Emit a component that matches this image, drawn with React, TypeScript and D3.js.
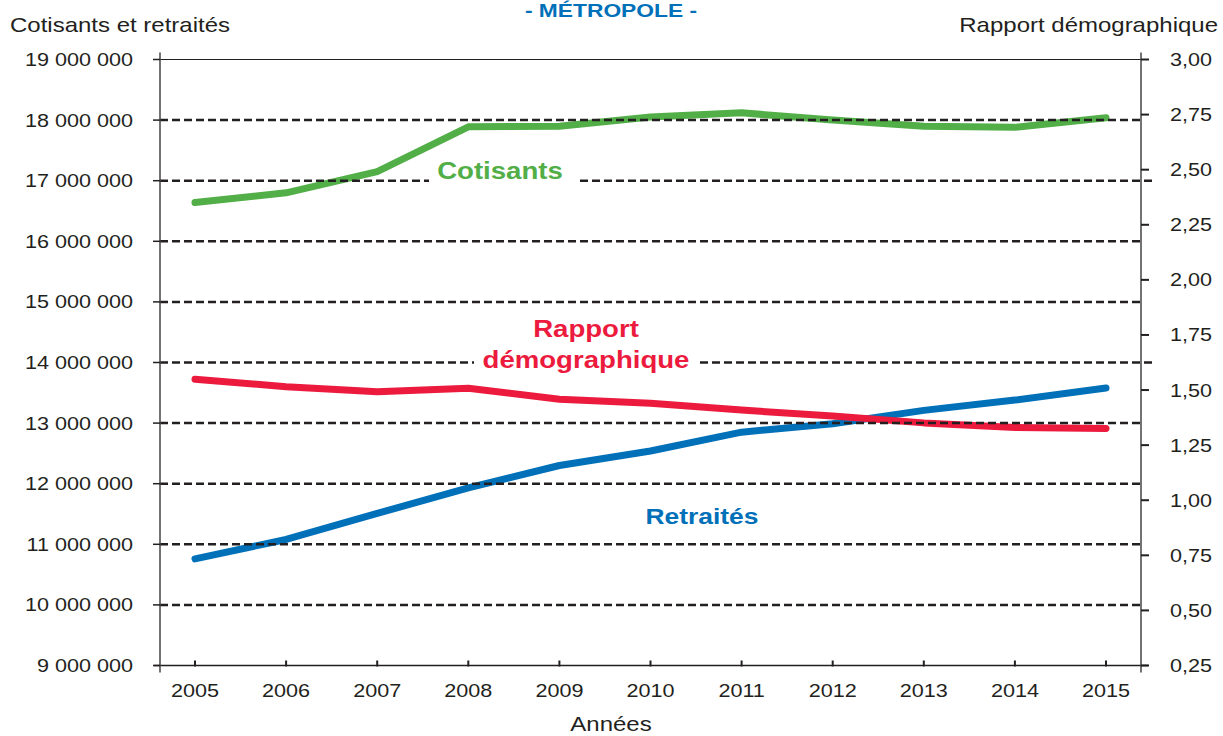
import React from "react";
import * as d3 from "d3";

const years = [2005, 2006, 2007, 2008, 2009, 2010, 2011, 2012, 2013, 2014, 2015];
const cotisants = [16.64, 16.80, 17.15, 17.89, 17.90, 18.05, 18.12, 18.00, 17.90, 17.88, 18.04]; // millions
const retraites = [10.76, 11.08, 11.51, 11.93, 12.30, 12.54, 12.85, 12.99, 13.21, 13.38, 13.58]; // millions
const rapport = [1.549, 1.515, 1.492, 1.508, 1.458, 1.44, 1.409, 1.382, 1.351, 1.33, 1.326];
const leftTicks = [9, 10, 11, 12, 13, 14, 15, 16, 17, 18, 19];
const rightTicks = [0.25, 0.5, 0.75, 1.0, 1.25, 1.5, 1.75, 2.0, 2.25, 2.5, 2.75, 3.0];

const W = 1223;
const H = 736;
const X0 = 160;
const X1 = 1141;
const Y0 = 665.5;
const Y1 = 59.5;
const SX = 1.2;
const FONT = "'Liberation Sans', Arial, Helvetica, sans-serif";

const GREEN = "#52ae47";
const RED = "#ec1b3e";
const BLUE = "#0070b9";
const DARK = "#231f20";

function T(props: {
  x: number; y: number; anchor?: string; size: number; weight?: string | number; fill?: string; children: React.ReactNode;
}) {
  const { x, y, anchor = "start", size, weight = "normal", fill = DARK, children } = props;
  return (
    <text
      transform={`translate(${x},${y}) scale(${SX},1)`}
      textAnchor={anchor}
      fontSize={size}
      fontWeight={weight}
      fill={fill}
      fontFamily={FONT}
    >
      {children}
    </text>
  );
}

const fmtLeft = (v: number) => `${v} 000 000`;
const fmtRight = (v: number) => v.toFixed(2).replace(".", ",");

export default function App() {
  const x = d3.scaleLinear().domain([2005, 2015]).range([195, 1106]);
  const yL = d3.scaleLinear().domain([9, 19]).range([Y0, Y1]);
  const yR = d3.scaleLinear().domain([0.25, 3.0]).range([Y0, Y1]);

  const lineL = d3.line<number>().x((_, i) => x(years[i])).y((d) => yL(d));
  const lineR = d3.line<number>().x((_, i) => x(years[i])).y((d) => yR(d));

  const gridVals = leftTicks.filter((v) => v > 9 && v < 19);

  return (
    <svg
      width={W}
      height={H}
      style={{ position: "absolute", left: 0, top: 0, background: "#fff" }}
    >
      <rect x={0} y={0} width={W} height={H} fill="#fff" />

      {/* data lines */}
      <path d={lineL(cotisants) || ""} fill="none" stroke={GREEN} strokeWidth={7} strokeLinecap="round" strokeLinejoin="round" />
      <path d={lineL(retraites) || ""} fill="none" stroke={BLUE} strokeWidth={7} strokeLinecap="round" strokeLinejoin="round" />
      <path d={lineR(rapport) || ""} fill="none" stroke={RED} strokeWidth={7} strokeLinecap="round" strokeLinejoin="round" />

      {/* dashed gridlines */}
      {gridVals.map((v) => (
        <line
          key={v}
          x1={X0}
          x2={v === 17 || v === 14 ? 1155 : X1}
          y1={yL(v)}
          y2={yL(v)}
          stroke={DARK}
          strokeWidth={2.5}
          strokeDasharray="8 4"
        />
      ))}

      {/* top border and x axis */}
      <line x1={154} x2={1148} y1={yL(19)} y2={yL(19)} stroke={DARK} strokeWidth={1.2} />
      <line x1={154} x2={1148} y1={Y0} y2={Y0} stroke={DARK} strokeWidth={1.5} />
      {/* left & right axes */}
      <line x1={X0} x2={X0} y1={Y1 - 7} y2={Y0 + 7} stroke={"#444"} strokeWidth={1.5} />
      <line x1={X1} x2={X1} y1={Y1 - 7} y2={Y0 + 7} stroke={"#444"} strokeWidth={1.5} />

      {/* left ticks */}
      {leftTicks.map((v) => (
        <g key={"l" + v}>
          <line x1={X0 - 7} x2={X0} y1={yL(v)} y2={yL(v)} stroke={DARK} strokeWidth={1.5} />
          <T x={133} y={yL(v) + 6.5} anchor="end" size={18}>{fmtLeft(v)}</T>
        </g>
      ))}

      {/* right ticks */}
      {rightTicks.map((v) => (
        <g key={"r" + v}>
          <line x1={X1} x2={X1 + 8} y1={yR(v)} y2={yR(v)} stroke={DARK} strokeWidth={2} />
          <T x={1170} y={yR(v) + 6.5} anchor="start" size={18}>{fmtRight(v)}</T>
        </g>
      ))}

      {/* x ticks */}
      {years.map((yr) => (
        <g key={"x" + yr}>
          <line x1={x(yr)} x2={x(yr)} y1={Y0 - 5} y2={Y0 + 1} stroke={DARK} strokeWidth={2} />
          <T x={x(yr)} y={697} anchor="middle" size={18}>{String(yr)}</T>
        </g>
      ))}

      {/* axis titles */}
      <T x={10} y={32} size={20}>Cotisants et retraités</T>
      <T x={1218} y={32} anchor="end" size={20}>Rapport démographique</T>
      <T x={611} y={731} anchor="middle" size={20}>Années</T>

      {/* title */}
      <T x={611} y={16.5} anchor="middle" size={19} weight="bold" fill={BLUE}>- MÉTROPOLE -</T>

      {/* inline labels */}
      <rect x={429} y={170} width={150} height={22} fill="#fff" />
      <T x={500} y={179} anchor="middle" size={23} weight="bold" fill={GREEN}>Cotisants</T>

      <rect x={474} y={351} width={226} height={22} fill="#fff" />
      <T x={586} y={337} anchor="middle" size={23} weight="bold" fill={RED}>Rapport</T>
      <T x={586} y={368} anchor="middle" size={23} weight="bold" fill={RED}>démographique</T>

      <T x={702} y={524} anchor="middle" size={22} weight="bold" fill={BLUE}>Retraités</T>
    </svg>
  );
}
